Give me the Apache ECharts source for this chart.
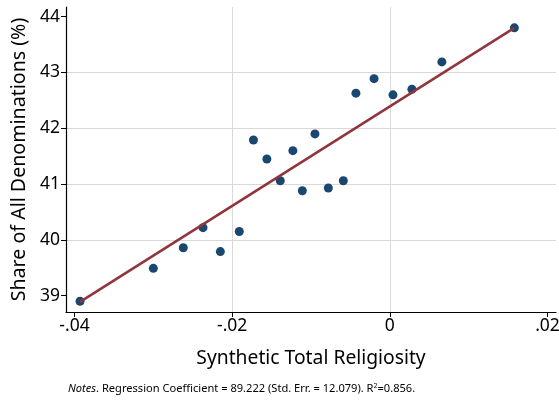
<!DOCTYPE html>
<html lang="en">
<head>
<meta charset="UTF-8">
<title>Religiosity scatter</title>
<script src="https://cdn.jsdelivr.net/npm/echarts@6/dist/echarts.min.js"></script>
<style>
  html, body { margin: 0; padding: 0; background: #fff; }
  #main { width: 559px; height: 400px; }
</style>
</head>
<body>
<div id="main"></div>
<script>
// points
let religiosity = [-0.0393, -0.0300, -0.0262, -0.0237, -0.0215, -0.0191, -0.0173, -0.0156, -0.0139, -0.0123,
                   -0.0111, -0.0095, -0.0078, -0.0059, -0.0043, -0.0020, 0.0004, 0.0028, 0.0066, 0.0158]
let share = [38.90, 39.49, 39.86, 40.22, 39.79, 40.15, 41.79, 41.45, 41.06, 41.60,
             40.88, 41.90, 40.93, 41.06, 42.63, 42.89, 42.60, 42.70, 43.19, 43.80]
// fitted line end points
let fitX = [-0.0393, 0.0158]
let fitY = [38.89, 43.80]
let xTicks = [-0.04, -0.02, 0, 0.02]
let yTicks = [39, 40, 41, 42, 43, 44]

let font = '"Noto Sans", "Open Sans", sans-serif'
let points = religiosity.map(function (x, i) { return [x, share[i]] })
let fit = fitX.map(function (x, i) { return [x, fitY[i]] })

function fmtX(v) {
    if (Math.abs(v) < 1e-9) return '0'
    let s = Math.abs(v).toFixed(2).replace(/^0/, '')
    return (v < 0 ? '-' : '') + s
}

let mycharts = echarts.init(document.getElementById('main'))
mycharts.setOption({
    animation: false,
    grid: { left: 66, right: 3, top: 7, bottom: 88, containLabel: false, outerBoundsMode: 'none' },
    xAxis: {
        type: 'value',
        min: -0.04108, max: 0.02108,
        name: 'Synthetic Total Religiosity',
        nameLocation: 'middle',
        nameGap: 37,
        nameTextStyle: { fontFamily: font, fontSize: 19.3, color: '#000' },
        axisLine: { show: true, onZero: false, lineStyle: { color: '#000', width: 1.2 } },
        axisTick: { show: true, length: 5, lineStyle: { color: '#000' }, customValues: xTicks },
        axisLabel: { customValues: xTicks, formatter: fmtX, fontFamily: font, fontSize: 17.5, color: '#000', margin: 5 },
        splitLine: { show: true, showMinLine: false, showMaxLine: false, lineStyle: { color: '#d9d9d9', width: 1 } }
    },
    yAxis: {
        type: 'value',
        min: 38.708, max: 44.174,
        name: 'Share of All Denominations (%)',
        nameLocation: 'middle',
        nameGap: 37,
        nameTextStyle: { fontFamily: font, fontSize: 19.6, color: '#000' },
        axisLine: { show: true, onZero: false, lineStyle: { color: '#000', width: 1.2 } },
        axisTick: { show: true, length: 5, lineStyle: { color: '#000' }, customValues: yTicks },
        axisLabel: { customValues: yTicks, fontFamily: font, fontSize: 17.5, color: '#000', margin: 6 },
        splitLine: { show: true, showMinLine: false, showMaxLine: false, lineStyle: { color: '#d9d9d9', width: 1 } }
    },
    series: [{
        type: 'scatter',
        data: points,
        symbolSize: 9,
        itemStyle: { color: '#1a476f', opacity: 1 }
    }, {
        type: 'line',
        data: fit,
        symbol: 'none',
        z: 3,
        lineStyle: { color: '#90353b', width: 2.5 }
    }],
    graphic: [{
        type: 'text',
        left: 68,
        top: 382,
        style: {
            text: '{i|Notes}. Regression Coefficient = 89.222 (Std. Err. = 12.079). R{s|2}=0.856.',
            fontFamily: font,
            fontSize: 11.1,
            fill: '#000',
            rich: {
                i: { fontStyle: 'italic', fontFamily: font, fontSize: 11.1 },
                s: { fontSize: 7, fontFamily: font, padding: [0, 0, 6, 0] }
            }
        }
    }]
})
</script>
</body>
</html>
